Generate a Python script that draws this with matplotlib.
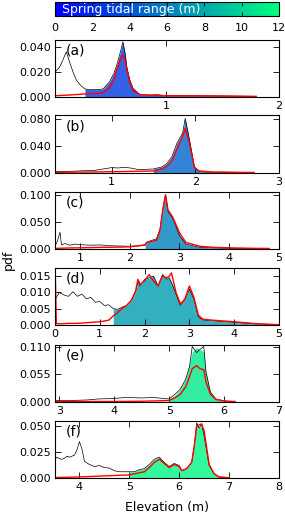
import numpy as np
import matplotlib
matplotlib.use("Agg")
import matplotlib.pyplot as plt
from matplotlib import cm, colors

# ---------------- data ----------------
labels = ["(a)", "(b)", "(c)", "(d)", "(e)", "(f)"]
tidal_range = [2.7, 4.8, 6.0, 7.4, 11.0, 11.6]
fill_start = [0.285, 1.5, 2.28, 1.22, 5.0, 5.0]
xlims = [(0.02, 2.0), (0.325, 3.0), (0.5, 5.0), (0.0, 5.0), (2.92, 7.0), (3.51, 8.0)]
ylims = [0.046, 0.0865, 0.105, 0.0175, 0.113, 0.0548]
yticks = [[0.0, 0.020, 0.040], [0.0, 0.040, 0.080], [0.0, 0.050, 0.100],
          [0.0, 0.005, 0.010, 0.015], [0.0, 0.055, 0.110], [0.0, 0.025, 0.050]]
xticks = [[1, 2], [1, 2, 3], [1, 2, 3, 4, 5], [0, 1, 2, 3, 4, 5], [3, 4, 5, 6, 7], [4, 5, 6, 7, 8]]

a_x = [0.02, 0.06, 0.09, 0.12, 0.15, 0.18, 0.21, 0.25, 0.285, 0.33, 0.4, 0.445, 0.5, 0.54, 0.566, 0.6, 0.62, 0.64, 0.655, 0.68, 0.71, 0.77, 0.85, 0.92, 1.0, 1.2, 1.5, 1.8]
a_black = [0.020, 0.024, 0.030, 0.0364, 0.028, 0.020, 0.0135, 0.009, 0.0065, 0.006, 0.006, 0.0065, 0.012, 0.019, 0.0257, 0.037, 0.0445, 0.035, 0.024, 0.014, 0.0068, 0.002, 0.0015, 0.0018, 0.001, 0.001, 0.0008, 0.0005]
a_red = [0.001, 0.0012, 0.0013, 0.0015, 0.0016, 0.0018, 0.002, 0.0022, 0.0025, 0.0027, 0.003, 0.0035, 0.007, 0.014, 0.022, 0.031, 0.0338, 0.030, 0.022, 0.012, 0.005, 0.002, 0.0015, 0.0015, 0.001, 0.001, 0.0008, 0.0005]

b_x = [0.325, 0.5, 0.8, 1.0, 1.08, 1.16, 1.25, 1.32, 1.5, 1.6, 1.66, 1.72, 1.78, 1.85, 1.88, 1.93, 1.99, 2.05, 2.2, 2.5, 2.7]
b_black = [0.002, 0.0025, 0.004, 0.008, 0.0075, 0.0085, 0.007, 0.005, 0.006, 0.009, 0.014, 0.024, 0.044, 0.060, 0.0815, 0.050, 0.009, 0.002, 0.0012, 0.001, 0.0008]
b_red = [0.001, 0.0012, 0.0015, 0.002, 0.002, 0.0022, 0.0024, 0.0026, 0.003, 0.006, 0.010, 0.018, 0.035, 0.055, 0.0665, 0.045, 0.008, 0.003, 0.0015, 0.001, 0.0008]

c_x = [0.5, 0.55, 0.6, 0.63, 0.7, 0.8, 0.9, 1.0, 1.2, 1.4, 1.6, 1.8, 2.0, 2.2, 2.31, 2.34, 2.54, 2.61, 2.67, 2.72, 2.77, 2.87, 3.0, 3.13, 3.41, 3.7, 4.08, 4.5, 4.8]
c_black = [0.005, 0.015, 0.031, 0.008, 0.010, 0.007, 0.009, 0.008, 0.007, 0.0075, 0.006, 0.0055, 0.005, 0.006, 0.007, 0.0125, 0.019, 0.037, 0.075, 0.100, 0.069, 0.056, 0.025, 0.009, 0.003, 0.002, 0.001, 0.0008, 0.0005]
c_red = [0.001, 0.0012, 0.0014, 0.0015, 0.0016, 0.002, 0.002, 0.0022, 0.0025, 0.003, 0.0032, 0.0035, 0.004, 0.006, 0.008, 0.012, 0.016, 0.035, 0.075, 0.100, 0.072, 0.058, 0.030, 0.012, 0.005, 0.003, 0.002, 0.0012, 0.001]

d_x = [0.0, 0.03, 0.1, 0.2, 0.3, 0.4, 0.5, 0.6, 0.7, 0.8, 0.9, 1.0, 1.1, 1.2, 1.3, 1.4, 1.5, 1.6, 1.7, 1.8, 1.85, 1.9, 2.0, 2.1, 2.2, 2.3, 2.4, 2.5, 2.55, 2.6, 2.7, 2.8, 2.9, 3.0, 3.1, 3.2, 3.3, 3.5, 4.0, 4.5, 5.0]
d_black = [0.0075, 0.0085, 0.0100, 0.0092, 0.0088, 0.0102, 0.0088, 0.0095, 0.0080, 0.0085, 0.0070, 0.0072, 0.0060, 0.0062, 0.0050, 0.0048, 0.0055, 0.0060, 0.0075, 0.0100, 0.0135, 0.0120, 0.0140, 0.0145, 0.0150, 0.0120, 0.0155, 0.0140, 0.0145, 0.0130, 0.0095, 0.0060, 0.0075, 0.0110, 0.0080, 0.0025, 0.0015, 0.0013, 0.0008, 0.0003, 0.0001]
d_red = [0.0200, 0.0004, 0.0004, 0.0004, 0.0005, 0.0005, 0.0005, 0.0006, 0.0007, 0.0008, 0.0009, 0.0010, 0.0012, 0.0015, 0.0028, 0.0038, 0.0052, 0.0060, 0.0075, 0.0105, 0.0140, 0.0125, 0.0135, 0.0155, 0.0135, 0.0120, 0.0150, 0.0145, 0.0150, 0.0160, 0.0100, 0.0065, 0.0080, 0.0120, 0.0085, 0.0030, 0.0018, 0.0015, 0.0010, 0.0004, 0.0001]

e_x = [2.92, 3.2, 3.5, 3.7, 4.0, 4.2, 4.5, 4.7, 5.0, 5.1, 5.2, 5.3, 5.37, 5.42, 5.5, 5.56, 5.63, 5.67, 5.75, 5.85, 6.0, 6.2]
e_black = [0.003, 0.003, 0.004, 0.006, 0.007, 0.009, 0.008, 0.009, 0.006, 0.015, 0.025, 0.045, 0.070, 0.110, 0.098, 0.104, 0.110, 0.060, 0.020, 0.006, 0.002, 0.0005]
e_fill = [0.0, 0.0, 0.0, 0.0, 0.0, 0.0, 0.0, 0.0, 0.006, 0.013, 0.025, 0.045, 0.075, 0.100, 0.108, 0.104, 0.100, 0.060, 0.020, 0.005, 0.002, 0.0005]
e_red = [0.001, 0.001, 0.001, 0.001, 0.001, 0.0012, 0.0015, 0.002, 0.003, 0.008, 0.015, 0.030, 0.050, 0.066, 0.072, 0.066, 0.064, 0.040, 0.015, 0.005, 0.002, 0.001]

f_x = [3.51, 3.55, 3.6, 3.65, 3.7, 3.75, 3.8, 3.9, 3.95, 4.0, 4.05, 4.1, 4.2, 4.3, 4.4, 4.5, 4.6, 4.7, 4.8, 5.0, 5.1, 5.2, 5.3, 5.4, 5.5, 5.6, 5.7, 5.8, 5.9, 6.0, 6.05, 6.15, 6.25, 6.3, 6.35, 6.4, 6.45, 6.5, 6.6, 6.7, 6.8, 7.0]
f_black = [0.018, 0.020, 0.0185, 0.018, 0.019, 0.021, 0.020, 0.022, 0.027, 0.035, 0.028, 0.016, 0.013, 0.011, 0.012, 0.010, 0.0095, 0.007, 0.006, 0.006, 0.006, 0.008, 0.009, 0.013, 0.018, 0.020, 0.015, 0.011, 0.014, 0.012, 0.007, 0.009, 0.015, 0.030, 0.053, 0.048, 0.052, 0.040, 0.012, 0.004, 0.001, 0.0003]
f_red = [0.0005, 0.0005, 0.0006, 0.0006, 0.0007, 0.0007, 0.0008, 0.0009, 0.001, 0.001, 0.0011, 0.0012, 0.0014, 0.0016, 0.0018, 0.002, 0.0022, 0.0024, 0.0026, 0.003, 0.004, 0.005, 0.006, 0.010, 0.015, 0.018, 0.014, 0.010, 0.013, 0.011, 0.007, 0.009, 0.015, 0.030, 0.050, 0.051, 0.052, 0.045, 0.013, 0.004, 0.001, 0.0003]

cbar_ticks = [0, 2, 4, 6, 8, 10, 12]

# ---------------- figure ----------------
W, H = 285, 513
plt.rcParams['font.family'] = ['DejaVu Sans']
fig = plt.figure(figsize=(W / 100, H / 100), dpi=100)

cmap = matplotlib.colormaps['winter']
norm = colors.Normalize(0, 12)

def frac(px_left, px_top, px_w, px_h):
    return [px_left / W, 1 - (px_top + px_h) / H, px_w / W, px_h / H]

# colorbar
cax = fig.add_axes(frac(55, 2, 224, 14))
sm = cm.ScalarMappable(norm=norm, cmap=cmap)
cb = fig.colorbar(sm, cax=cax, orientation='horizontal', ticks=cbar_ticks)
cb.outline.set_linewidth(0.8)
cax.tick_params(axis='x', direction='in', length=3, labelsize=8, pad=5, top=True, width=0.6)
cax.set_xticklabels([str(t) for t in cbar_ticks])
cax.text(0.03, 0.5, "Spring tidal range (m)", transform=cax.transAxes, color='white',
         fontsize=9, va='center', ha='left')

tops = [40, 115, 192, 268, 345, 421]
heights = [57, 58, 57, 57, 57, 57]

series = [
    (a_x, a_black, None, a_red),
    (b_x, b_black, None, b_red),
    (c_x, c_black, None, c_red),
    (d_x, d_black, None, d_red),
    (e_x, e_black, e_fill, e_red),
    (f_x, f_black, None, f_red),
]

for i, (x, blk, fil, red) in enumerate(series):
    ax = fig.add_axes(frac(55, tops[i], 224, heights[i]))
    x = np.asarray(x)
    blk = np.asarray(blk)
    red = np.asarray(red)
    col = cmap(norm(tidal_range[i]))
    where = x >= fill_start[i]
    if fil is None:
        fil = np.where(where, blk, 0.0)
    else:
        fil = np.asarray(fil)
    ax.fill_between(x, 0, fil, where=where, color=col, alpha=0.8, linewidth=0)
    ax.plot(x, blk, color='black', linewidth=0.5)
    ax.plot(x, red, color='red', linewidth=1.0)
    ax.set_xlim(*xlims[i])
    ax.set_ylim(0, ylims[i])
    ax.set_yticks(yticks[i])
    ax.set_yticklabels(["%.3f" % v for v in yticks[i]])
    ax.set_xticks(xticks[i])
    ax.set_xticklabels([str(v) for v in xticks[i]])
    ax.tick_params(direction='in', length=4, width=0.6, labelsize=8, top=True, right=True, pad=3)
    for s in ax.spines.values():
        s.set_linewidth(0.8)
    ax.text(0.05, 0.93, labels[i], transform=ax.transAxes, fontsize=10, va='top', ha='left')

fig.text(8 / W, 1 - 260 / H, "pdf", rotation=90, fontsize=9, va='center', ha='center')
fig.text(167 / W, 1 - 507 / H, "Elevation (m)", fontsize=9, va='center', ha='center')

fig.savefig("out.png", dpi=100)
